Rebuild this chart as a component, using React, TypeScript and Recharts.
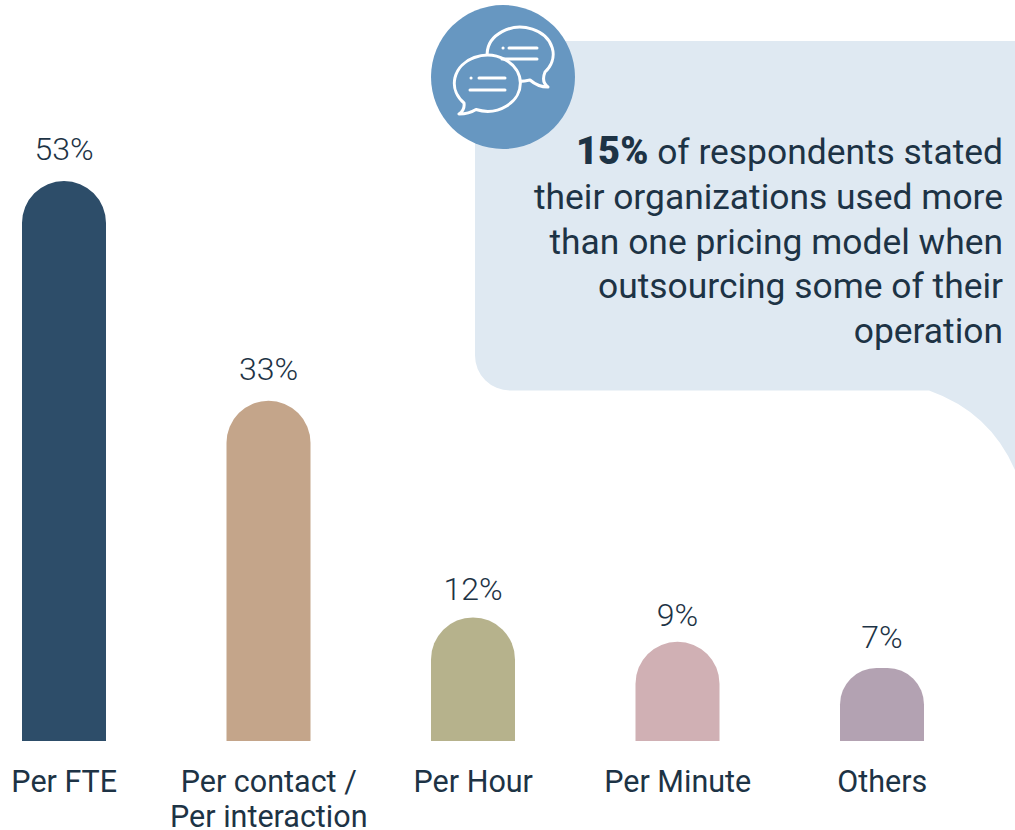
import { BarChart, Bar, Cell, XAxis, YAxis, LabelList } from 'recharts';

const categories = ['Per FTE', 'Per contact /\nPer interaction', 'Per Hour', 'Per Minute', 'Others'];
const valueLabels = ['53%', '33%', '12%', '9%', '7%'];
// heights, the printed labels are rounded and not quite to scale
const barValues = [53, 32.2, 11.7, 9.4, 6.9];
const COLORS = ['#2d4d69', '#c4a58a', '#b6b28c', '#d0b0b4', '#b3a2b2'];
const calloutLines = [
  'their organizations used more',
  'than one pricing model when',
  'outsourcing some of their',
  'operation'
];

const data = categories.map((name, i) => ({ name, value: barValues[i], label: valueLabels[i] }));

const FONT = 'Roboto, sans-serif';
const INK = '#1d3345';
// the labels do not sit at the same distance above each bar
const LABEL_GAPS = [21, 21, 17, 16, 20];

function CategoryTick({ x, y, payload }: any) {
  const lines = String(payload.value).split('\n');
  return (
    <text x={x} y={y + 43} textAnchor="middle" fontFamily={FONT} fontSize={30.5} fill={INK}>
      {lines.map((line, i) => (
        <tspan key={line} x={x} dy={i === 0 ? 0 : 35}>{line}</tspan>
      ))}
    </text>
  );
}

function ValueLabel({ x, y, width, value, index }: any) {
  return (
    <text
      x={x + width / 2}
      y={y - LABEL_GAPS[index]}
      textAnchor="middle"
      fontFamily={FONT}
      fontSize={32}
      fontWeight={300}
      fill={INK}
    >
      {value}
    </text>
  );
}

function Callout() {
  const bg = '#dfe9f2';
  const blue = '#6797c1';
  return (
    <svg width={1015} height={830} style={{ position: 'absolute', left: 0, top: 0 }}>
      <path
        d="M475 41 H1015 V470 Q990 412 929 390.5 H510 A35 35 0 0 1 475 355.5 Z"
        fill={bg}
      />
      <circle cx={503} cy={77} r={72} fill={blue} />
      <g stroke="#fff" strokeWidth={3} strokeLinecap="round" strokeLinejoin="round" fill={blue}>
        <path d="M545 72 A33 27 0 1 0 530 80 Q538 87 548 87 Q541 82 545 72 Z" />
        <path d="M476 109.5 A33 28 0 1 0 464 103 Q465 110 459 114 Q469 114 476 109.5 Z" />
        <path d="M509 48 H537 M502 59 H537 M479 78 H505 M470 90 H505" fill="none" />
        <path d="M503 48 h.1 M471 78 h.1" fill="none" />
      </g>
      <text textAnchor="end" fontFamily={FONT} fontSize={35.4} fill={INK}>
        <tspan x={1003} y={164}>
          <tspan fontWeight={900} fontSize={38}>15%</tspan> of respondents stated
        </tspan>
        {calloutLines.map((line, i) => (
          <tspan key={line} x={1003} y={209 + i * 44.7}>{line}</tspan>
        ))}
      </text>
    </svg>
  );
}

export default function App() {
  return (
    <div style={{ position: 'absolute', left: 0, top: 0, width: 1015, height: 830, overflow: 'hidden', background: '#fff' }}>
      <div style={{ position: 'absolute', left: -37.75, top: 0 }}>
        <BarChart width={1022.5} height={830} data={data} margin={{ top: 0, right: 0, bottom: 0, left: 0 }}>
          <XAxis dataKey="name" height={89} axisLine={false} tickLine={false} interval={0} tick={<CategoryTick />} />
          <YAxis hide domain={[0, 70.13]} />
          <Bar dataKey="value" barSize={84} radius={[42, 42, 0, 0]} isAnimationActive={false}>
            {data.map((entry, index) => (
              <Cell key={`cell-${index}`} fill={COLORS[index]} />
            ))}
            <LabelList dataKey="label" content={<ValueLabel />} />
          </Bar>
        </BarChart>
      </div>
      <Callout />
    </div>
  );
}
